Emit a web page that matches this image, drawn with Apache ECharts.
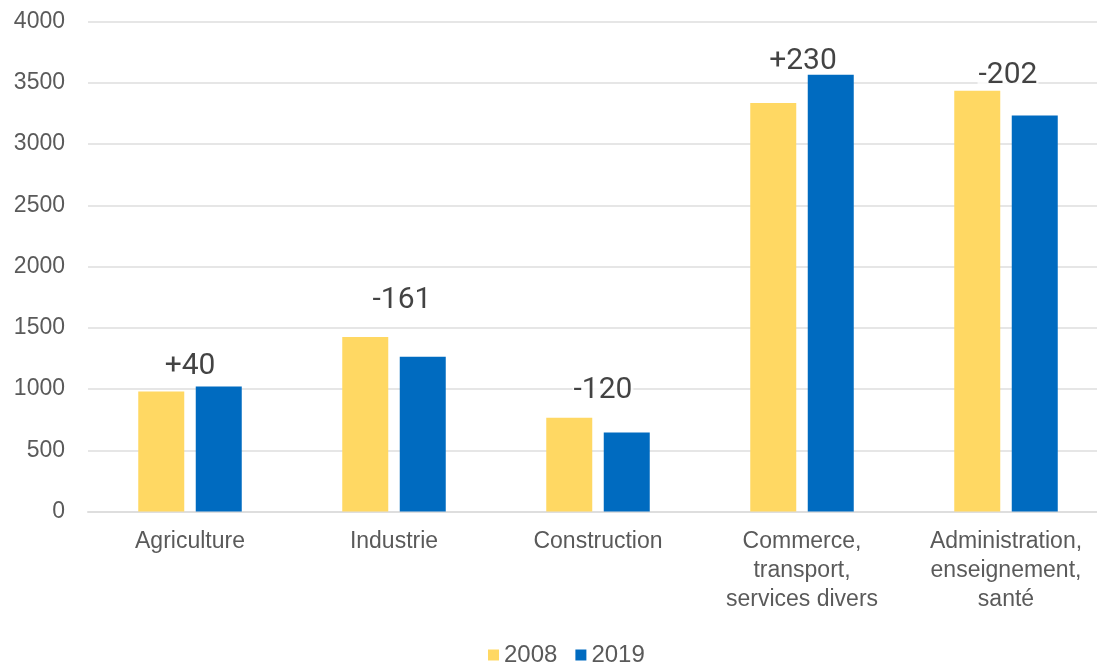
<!DOCTYPE html>
<html>
<head>
<meta charset="utf-8">
<script src="https://cdn.jsdelivr.net/npm/echarts@6/dist/echarts.min.js"></script>
<style>
  html, body { margin: 0; padding: 0; background: #fff; }
  #chart { width: 1097px; height: 668px; }
</style>
</head>
<body>
<div id="chart"></div>
<script>
// Emploi par secteur, 2008 et 2019
const categories = [
  'Agriculture',
  'Industrie',
  'Construction',
  'Commerce,\ntransport,\nservices divers',
  'Administration,\nenseignement,\nsanté'
];
const values2008 = [980, 1425, 765, 3335, 3434];
const values2019 = [1020, 1264, 645, 3565, 3232];
const yTicks = [0, 500, 1000, 1500, 2000, 2500, 3000, 3500, 4000];

// Placement tweaks for the change labels (pixels)
const labelDistance = [5, 21, 12, -2, 0];
const labelShiftX = [0, 8, 5, 1, 2];

const changes = values2019.map((v, i) => v - values2008[i]);
const fmtChange = d => (d > 0 ? '+' : '') + d;

const axisFont = { fontFamily: 'Liberation Sans, Arial, sans-serif', fontSize: 23, color: '#5a5a5a' };

const chart = echarts.init(document.getElementById('chart'));
chart.setOption({
  animation: false,
  grid: { left: 88, top: 21.5, width: 1020, height: 490, containLabel: false, outerBoundsMode: 'none' },
  legend: {
    data: ['2008', '2019'],
    left: 483,
    top: 638,
    icon: 'rect',
    itemWidth: 11,
    itemHeight: 11,
    itemGap: 18,
    textStyle: Object.assign({}, axisFont, { fontSize: 24, padding: [0, 0, 0, 0] })
  },
  xAxis: {
    type: 'category',
    data: categories,
    axisTick: { show: false },
    axisLine: { lineStyle: { color: '#dedede', width: 2 } },
    axisLabel: Object.assign({}, axisFont, { margin: 16, lineHeight: 29, interval: 0 })
  },
  yAxis: {
    type: 'value',
    min: yTicks[0],
    max: yTicks[yTicks.length - 1],
    interval: 500,
    axisLine: { show: false },
    axisTick: { show: false },
    splitLine: { lineStyle: { color: '#e6e6e6', width: 2 } },
    axisLabel: Object.assign({}, axisFont, { margin: 23, formatter: v => String(v) })
  },
  series: [
    {
      name: '2008',
      type: 'bar',
      z: 3,
      data: values2008,
      barWidth: 46,
      barGap: '25%',
      itemStyle: { color: '#FFD863' }
    },
    {
      name: '2019',
      type: 'bar',
      z: 3,
      data: values2019,
      barWidth: 46,
      itemStyle: { color: '#006BC0' }
    },
    {
      // change 2008 → 2019 written above each group, over the grid lines
      name: 'variation',
      type: 'scatter',
      symbolSize: 0,
      silent: true,
      z: 1,
      data: categories.map((c, i) => ({
        value: [i, Math.max(values2008[i], values2019[i])],
        label: { distance: labelDistance[i], offset: [labelShiftX[i], 0] }
      })),
      label: {
        show: true,
        position: 'top',
        formatter: p => fmtChange(changes[p.dataIndex]),
        fontFamily: 'Roboto, sans-serif',
        fontSize: 30,
        color: '#141414',
        backgroundColor: '#fff',
        padding: [0, 1]
      }
    }
  ]
});
</script>
</body>
</html>
